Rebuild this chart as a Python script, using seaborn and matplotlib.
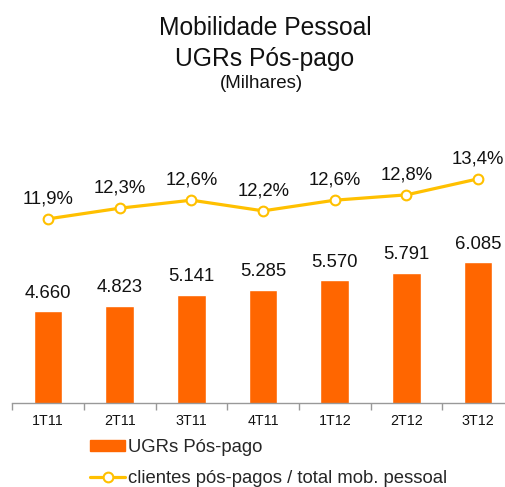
import matplotlib
matplotlib.use("Agg")
import matplotlib.pyplot as plt
import seaborn as sns
import numpy as np
import pandas as pd
from matplotlib.patches import Patch
from matplotlib.lines import Line2D

categories = ["1T11", "2T11", "3T11", "4T11", "1T12", "2T12", "3T12"]
ugrs = [4660, 4823, 5141, 5285, 5570, 5791, 6085]
ugr_labels = ["4.660", "4.823", "5.141", "5.285", "5.570", "5.791", "6.085"]
share = [11.9, 12.3, 12.6, 12.2, 12.6, 12.8, 13.4]
share_labels = ["11,9%", "12,3%", "12,6%", "12,2%", "12,6%", "12,8%", "13,4%"]

sns.set_theme(style="white")
plt.rcParams['font.family'] = ['Liberation Sans', 'DejaVu Sans']

W, H = 505, 487
fig = plt.figure(figsize=(W / 100, H / 100), dpi=100)
left, right, bottom, top = 12.3, 514.0, 403, 130
ax = fig.add_axes([left / W, 1 - bottom / H, (right - left) / W, (bottom - top) / H])

orange = "#FF6600"
gold = "#FFC000"

df = pd.DataFrame({"cat": categories, "ugrs": ugrs})
sns.barplot(data=df, x="cat", y="ugrs", color=orange, width=0.4, ax=ax, saturation=1)
ax.set_ylim(2000, 9936)
ax.set_xlim(-0.5, len(categories) - 0.5)
for i, (v, lab) in enumerate(zip(ugrs, ugr_labels)):
    ax.text(i, v + 280, lab, ha="center", va="bottom", fontsize=13.3, color="#111111")

for s in ["top", "left", "right"]:
    ax.spines[s].set_visible(False)
ax.spines["bottom"].set_color("#999999")
ax.spines["bottom"].set_linewidth(1.0)
ax.set_yticks([])
ax.set_xlabel("")
ax.set_ylabel("")
ax.set_xticks(np.arange(len(categories)))
ax.set_xticklabels(categories, fontsize=10.3, color="#111111")
ax.tick_params(axis="x", length=0, pad=8)
ax.set_xticks(np.arange(len(categories) + 1) - 0.5, minor=True)
ax.tick_params(axis="x", which="minor", length=5, color="#999999", width=1, bottom=True)

ax2 = ax.twinx()
ldf = pd.DataFrame({"x": np.arange(len(categories)), "share": share})
sns.lineplot(data=ldf, x="x", y="share", ax=ax2, color=gold, linewidth=2.3,
             marker="o", markersize=7, markerfacecolor="white",
             markeredgecolor=gold, markeredgewidth=1.5)
ax2.set_ylim(5.0, 15.23)
ax2.set_xlim(-0.5, len(categories) - 0.5)
for i, (v, lab) in enumerate(zip(share, share_labels)):
    ax2.text(i, v + 0.42, lab, ha="center", va="bottom", fontsize=13.3, color="#111111")
for s in ax2.spines.values():
    s.set_visible(False)
ax2.set_yticks([])
ax2.set_ylabel("")
ax2.set_xlabel("")

fig.text(265 / W, 1 - 28 / H, "Mobilidade Pessoal", ha="center", va="center", fontsize=17.7, color="#111111")
fig.text(265 / W, 1 - 59 / H, "UGRs Pós-pago", ha="center", va="center", fontsize=17.7, color="#111111")
fig.text(261 / W, 1 - 84 / H, "(Milhares)", ha="center", va="center", fontsize=13.5, color="#111111")

handles = [Patch(facecolor=orange, edgecolor=orange),
           Line2D([0], [0], color=gold, linewidth=2.3, marker="o", markersize=7,
                  markerfacecolor="white", markeredgecolor=gold, markeredgewidth=1.5)]
leg = fig.legend(handles, ["UGRs Pós-pago", "clientes pós-pagos / total mob. pessoal"],
                 loc="upper left", bbox_to_anchor=(90 / W, 1 - 439 / H), frameon=False,
                 fontsize=13.3, handlelength=1.9, handleheight=0.5, handletextpad=0.15,
                 labelspacing=0.78, borderaxespad=0, borderpad=0)

fig.savefig("out.png", dpi=100)
